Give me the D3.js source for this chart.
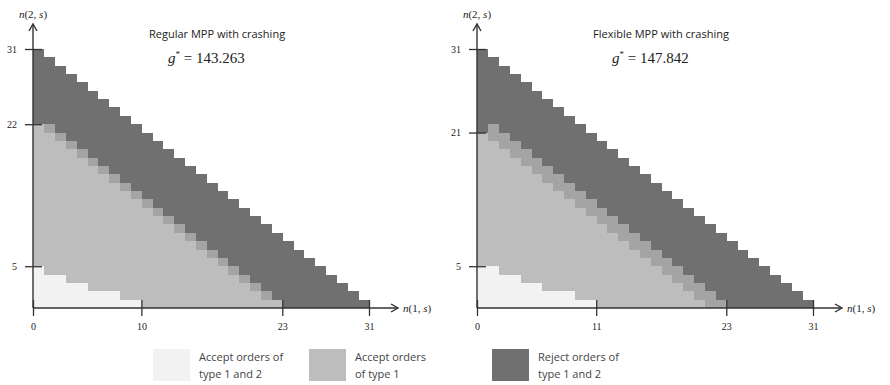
<!DOCTYPE html>
<html>
<head>
<meta charset="utf-8">
<script src="https://cdn.jsdelivr.net/npm/d3@7"></script>
<style>
  body { margin: 0; background: #fff; }
  svg { display: block; }
  .title { font-family: "Open Sans", sans-serif; font-size: 11px; fill: #222; }
  .gstar { font-family: "Liberation Serif", serif; font-size: 15px; fill: #222; }
  .tick text { font-family: "Liberation Serif", serif; font-size: 10px; fill: #222; }
  .axislabel { font-family: "Liberation Serif", serif; font-size: 11px; fill: #222; }
  .legend text { font-family: "Open Sans", sans-serif; font-size: 11px; fill: #444; }
</style>
</head>
<body>
<svg width="890" height="385"></svg>
<script>
var svg = d3.select("svg");

// columns n(1,s) = 0..30, heights are n(2,s) tops of each region
var columns = d3.range(31);

var darkTop = [31,30,29,28,27,26,25,24,23,22,21,20,19,18,17,16,15,14,13,12,11,10,9,8,7,6,5,4,3,2,1];

// regular MPP with crashing
var regMidTop   = [22,22,21,20,19,18,17,16,15,14,13,12,11,10,9,8,7,6,5,4,3,2,1,0,0,0,0,0,0,0,0];
var regLightTop = [22,21,20,19,18,17,16,15,14,13,12,11,10,9,8,7,6,5,4,3,2,1,1,0,0,0,0,0,0,0,0];
var regWhiteTop = [5,4,4,3,3,2,2,2,1,1,0,0,0,0,0,0,0,0,0,0,0,0,0,0,0,0,0,0,0,0,0];

// flexible MPP with crashing
var flexMidTop   = [21,22,21,20,19,18,17,16,15,14,13,12,11,10,9,8,7,6,5,4,3,2,1,0,0,0,0,0,0,0,0];
var flexLightTop = [21,20,19,18,17,16,15,14,13,12,11,10,9,8,7,6,5,4,3,2,1,0,0,0,0,0,0,0,0,0,0];
var flexWhiteTop = [5,5,4,4,3,3,2,2,2,1,1,0,0,0,0,0,0,0,0,0,0,0,0,0,0,0,0,0,0,0,0];

var regXTicks = [0, 10, 23, 31], regYTicks = [5, 22, 31];
var flexXTicks = [0, 11, 23, 31], flexYTicks = [5, 21, 31];

var legendLabels = [["Accept orders of", "type 1 and 2"], ["Accept orders", "of type 1"], ["Reject orders of", "type 1 and 2"]];

var colors = { white: "#f2f2f2", light: "#bdbdbd", mid: "#a4a4a4", dark: "#707070" };

var panels = [
  { x0: 33, title: "Regular MPP with crashing", g: "143.263", tx: 149, mid: regMidTop, light: regLightTop, white: regWhiteTop, xt: regXTicks, yt: regYTicks },
  { x0: 477, title: "Flexible MPP with crashing", g: "147.842", tx: 593, mid: flexMidTop, light: flexLightTop, white: flexWhiteTop, xt: flexXTicks, yt: flexYTicks }
];

panels.forEach(function(p) {
  var x = d3.scaleLinear().domain([0, 31]).range([p.x0, p.x0 + 336]);
  var y = d3.scaleLinear().domain([0, 31]).range([308, 49]);
  var g = svg.append("g");

  // stacked regions per column: white, light, medium, dark
  var layers = [
    { c: colors.dark,  lo: p.mid,   hi: darkTop },
    { c: colors.mid,   lo: p.light, hi: p.mid },
    { c: colors.light, lo: p.white, hi: p.light },
    { c: colors.white, lo: null,    hi: p.white }
  ];
  layers.forEach(function(l) {
    g.append("g").selectAll("rect")
      .data(columns.filter(function(i) { return l.hi[i] > (l.lo ? l.lo[i] : 0); }))
      .enter().append("rect")
      .attr("x", function(i) { return x(i); })
      .attr("width", x(1) - x(0) + 0.4)
      .attr("y", function(i) { return y(l.hi[i]); })
      .attr("height", function(i) { return y(l.lo ? l.lo[i] : 0) - y(l.hi[i]) + 0.4; })
      .attr("fill", l.c)
      .attr("shape-rendering", "crispEdges");
  });

  // axes lines with arrows
  var ax = g.append("g").attr("stroke", "#333").attr("stroke-width", 1.4).attr("fill", "none");
  ax.append("line").attr("x1", x(0)).attr("y1", y(0)).attr("x2", x(0)).attr("y2", 24);
  ax.append("path").attr("d", "M" + (x(0) - 4) + ",31L" + x(0) + ",24L" + (x(0) + 4) + ",31");
  ax.append("line").attr("x1", x(0)).attr("y1", y(0)).attr("x2", x(0) + 365).attr("y2", y(0));
  ax.append("path").attr("d", "M" + (x(0) + 358) + "," + (y(0) - 4) + "L" + (x(0) + 365) + "," + y(0) + "L" + (x(0) + 358) + "," + (y(0) + 4));

  var xAxis = g.append("g")
    .attr("transform", "translate(0," + (y(0) - 8) + ")")
    .call(d3.axisBottom(x).tickValues(p.xt).tickSize(16).tickPadding(7).tickFormat(d3.format("d")));
  xAxis.select(".domain").remove();
  xAxis.selectAll(".tick line").attr("stroke", "#333").attr("stroke-width", 1.3);
  xAxis.selectAll(".tick text").attr("font-family", null).attr("font-size", null);

  var yAxis = g.append("g")
    .attr("transform", "translate(" + (x(0) + 9) + ",0)")
    .call(d3.axisLeft(y).tickValues(p.yt).tickSize(17).tickPadding(8).tickFormat(d3.format("d")));
  yAxis.select(".domain").remove();
  yAxis.selectAll(".tick line").attr("stroke", "#333").attr("stroke-width", 1.3);
  yAxis.selectAll(".tick text").attr("font-family", null).attr("font-size", null);

  // axis labels
  var yl = g.append("text").attr("class", "axislabel").attr("x", x(0)).attr("y", 18).attr("text-anchor", "middle");
  yl.append("tspan").attr("font-style", "italic").text("n");
  yl.append("tspan").text("(2, ");
  yl.append("tspan").attr("font-style", "italic").text("s");
  yl.append("tspan").text(")");
  var xl = g.append("text").attr("class", "axislabel").attr("x", x(0) + 370).attr("y", y(0) + 4);
  xl.append("tspan").attr("font-style", "italic").text("n");
  xl.append("tspan").text("(1, ");
  xl.append("tspan").attr("font-style", "italic").text("s");
  xl.append("tspan").text(")");

  // titles
  g.append("text").attr("class", "title").attr("x", p.tx).attr("y", 38).text(p.title);
  var gs = g.append("text").attr("class", "gstar").attr("x", p.tx + 19).attr("y", 63);
  gs.append("tspan").attr("font-style", "italic").text("g");
  gs.append("tspan").attr("font-size", "9px").attr("dy", -6).text("*");
  gs.append("tspan").attr("dy", 6).text(" = " + p.g);
});

// legend
var legendX = [153, 309, 492];
var legendFill = [colors.white, colors.light, colors.dark];
var lg = svg.append("g").attr("class", "legend");
legendLabels.forEach(function(lab, i) {
  lg.append("rect").attr("x", legendX[i]).attr("y", 349).attr("width", 37).attr("height", 32).attr("fill", legendFill[i]);
  var t = lg.append("text").attr("x", legendX[i] + 46).attr("y", 361);
  t.append("tspan").attr("x", legendX[i] + 46).text(lab[0]);
  t.append("tspan").attr("x", legendX[i] + 46).attr("dy", 17).text(lab[1]);
});
</script>
</body>
</html>
